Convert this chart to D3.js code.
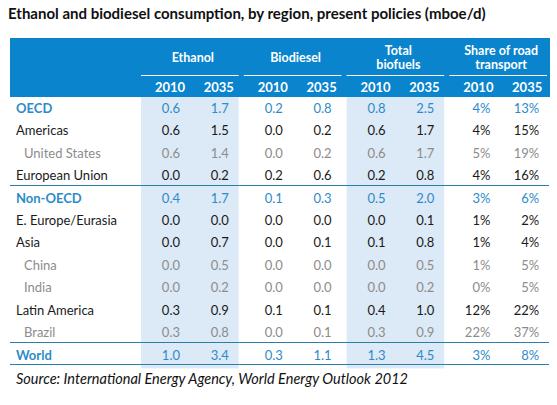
<!DOCTYPE html>
<html>
<head>
<meta charset="utf-8">
<script src="https://cdn.jsdelivr.net/npm/d3@7"></script>
<style>
  html, body { margin: 0; padding: 0; background: #fff; }
  svg { display: block; }
  text { font-family: Lato, "Open Sans", sans-serif; }
</style>
</head>
<body>
<svg id="chart" width="557" height="405"></svg>
<script>
const title = "Ethanol and biodiesel consumption, by region, present policies (mboe/d)";
const source = "Source: International Energy Agency, World Energy Outlook 2012";

const groups = ["Ethanol", "Biodiesel", "Total biofuels", "Share of road transport"];
const groupLines = [["Ethanol"], ["Biodiesel"], ["Total", "biofuels"], ["Share of road", "transport"]];
const years = ["2010", "2035"];

const regions = ["OECD", "Americas", "United States", "European Union", "Non-OECD",
  "E. Europe/Eurasia", "Asia", "China", "India", "Latin America", "Brazil", "World"];
const levels = ["aggregate", "region", "country", "region", "aggregate",
  "region", "region", "country", "country", "region", "country", "aggregate"];

const ethanol2010 = [0.6, 0.6, 0.6, 0.0, 0.4, 0.0, 0.0, 0.0, 0.0, 0.3, 0.3, 1.0];
const ethanol2035 = [1.7, 1.5, 1.4, 0.2, 1.7, 0.0, 0.7, 0.5, 0.2, 0.9, 0.8, 3.4];
const biodiesel2010 = [0.2, 0.0, 0.0, 0.2, 0.1, 0.0, 0.0, 0.0, 0.0, 0.1, 0.0, 0.3];
const biodiesel2035 = [0.8, 0.2, 0.2, 0.6, 0.3, 0.0, 0.1, 0.0, 0.0, 0.1, 0.1, 1.1];
const total2010 = [0.8, 0.6, 0.6, 0.2, 0.5, 0.0, 0.1, 0.0, 0.0, 0.4, 0.3, 1.3];
const total2035 = [2.5, 1.7, 1.7, 0.8, 2.0, 0.1, 0.8, 0.5, 0.2, 1.0, 0.9, 4.5];
const share2010 = [4, 4, 5, 4, 3, 1, 1, 1, 0, 12, 22, 3];
const share2035 = [13, 15, 19, 16, 6, 2, 4, 5, 5, 22, 37, 8];

const shadedGroups = ["Ethanol", "Total biofuels"];

const columns = [
  { group: "Ethanol", year: "2010", values: ethanol2010, fmt: d3.format(".1f") },
  { group: "Ethanol", year: "2035", values: ethanol2035, fmt: d3.format(".1f") },
  { group: "Biodiesel", year: "2010", values: biodiesel2010, fmt: d3.format(".1f") },
  { group: "Biodiesel", year: "2035", values: biodiesel2035, fmt: d3.format(".1f") },
  { group: "Total biofuels", year: "2010", values: total2010, fmt: d3.format(".1f") },
  { group: "Total biofuels", year: "2035", values: total2035, fmt: d3.format(".1f") },
  { group: "Share of road transport", year: "2010", values: share2010, fmt: d => d + "%" },
  { group: "Share of road transport", year: "2035", values: share2035, fmt: d => d + "%" }
];

const colors = {
  header: "#0a84cc",
  shade: "#dce9f6",
  rule: "#2b7ea8",
  aggregate: "#2e8bc9",
  region: "#1a1a1a",
  country: "#8c8c8c"
};

const svg = d3.select("#chart");

const tableLeft = 10, tableRight = 549;
const headerTop = 38, headerBottom = 97;

const gx = d3.scaleBand().domain(groups).range([141, 547]).paddingInner(0.05);
const yx = d3.scaleBand().domain(years).range([0, gx.bandwidth()]);
const y = d3.scaleBand().domain(regions).range([headerBottom, headerBottom + 12 * 22.45]);

// title
svg.append("text")
  .attr("x", 8).attr("y", 19)
  .attr("font-size", 15).attr("font-weight", "bold").attr("fill", "#111")
  .text(title);

// header box
svg.append("rect")
  .attr("x", tableLeft).attr("y", headerTop)
  .attr("width", tableRight + 1 - tableLeft).attr("height", headerBottom - headerTop)
  .attr("fill", colors.header);

// shaded columns
svg.selectAll("rect.shade").data(shadedGroups).join("rect")
  .attr("class", "shade")
  .attr("x", d => gx(d)).attr("y", headerBottom)
  .attr("width", gx.bandwidth()).attr("height", y.range()[1] + 2 - headerBottom)
  .attr("fill", colors.shade);

// group headers
const gh = svg.selectAll("g.gh").data(groups).join("g").attr("class", "gh");
gh.each(function(g, i) {
  const lines = groupLines[i];
  const cx = gx(g) + gx.bandwidth() / 2 + 3;
  const startY = lines.length === 1 ? 62 : 55;
  lines.forEach((ln, j) => {
    d3.select(this).append("text")
      .attr("x", cx).attr("y", startY + j * 13.5)
      .attr("text-anchor", "middle")
      .attr("font-size", 12.5).attr("font-weight", "bold").attr("fill", "#fff")
      .text(ln);
  });
  d3.select(this).append("line")
    .attr("x1", gx(g)).attr("x2", gx(g) + gx.bandwidth())
    .attr("y1", 75.5).attr("y2", 75.5)
    .attr("stroke", "#fff").attr("stroke-width", 1);
});

// year headers
svg.selectAll("text.year").data(columns).join("text")
  .attr("class", "year")
  .attr("x", d => gx(d.group) + yx(d.year) + 29)
  .attr("y", 92)
  .attr("text-anchor", "middle")
  .attr("font-size", 13).attr("font-weight", "bold").attr("fill", "#fff")
  .text(d => d.year);

// row labels
svg.selectAll("text.rlabel").data(regions).join("text")
  .attr("class", "rlabel")
  .attr("x", (d, i) => levels[i] === "country" ? 24 : 16)
  .attr("y", d => y(d) + y.bandwidth() / 2 + 4.5)
  .attr("font-size", 13)
  .attr("font-weight", (d, i) => levels[i] === "aggregate" ? "bold" : "normal")
  .attr("fill", (d, i) => colors[levels[i]])
  .text(d => d);

// values
columns.forEach(col => {
  const isShare = col.group === "Share of road transport";
  svg.append("g").selectAll("text").data(col.values).join("text")
    .attr("x", gx(col.group) + yx(col.year) + (isShare ? 41 : 39))
    .attr("y", (d, i) => y(regions[i]) + y.bandwidth() / 2 + 4.5)
    .attr("text-anchor", "end")
    .attr("font-size", 13)
    .attr("fill", (d, i) => colors[levels[i]])
    .text(d => col.fmt(d));
});

// separator rules
const ruleAfter = ["European Union", "Brazil", "World"];
svg.selectAll("line.rule").data(ruleAfter).join("line")
  .attr("class", "rule")
  .attr("x1", tableLeft).attr("x2", tableRight)
  .attr("y1", d => Math.round(y(d) + y.bandwidth()) - 1.5)
  .attr("y2", d => Math.round(y(d) + y.bandwidth()) - 1.5)
  .attr("stroke", colors.rule).attr("stroke-width", 1.2);

// source
svg.append("text")
  .attr("x", 16).attr("y", 384)
  .attr("font-size", 14.5).attr("font-style", "italic").attr("fill", "#111")
  .text(source);
</script>
</body>
</html>
